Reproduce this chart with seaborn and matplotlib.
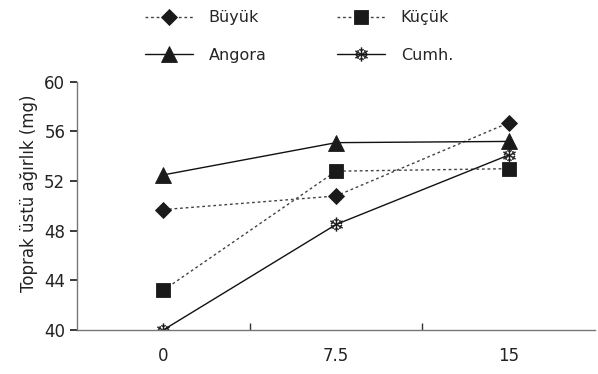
import numpy as np
import pandas as pd
import matplotlib
matplotlib.use("Agg")
import matplotlib.pyplot as plt
import seaborn as sns

# ── Data ──────────────────────────────────────────────────────────────────────
doses  = ["0", "7.5", "15"]
buyuk  = [49.7, 50.8, 56.7]
kucuk  = [43.2, 52.8, 53.0]
angora = [52.5, 55.1, 55.2]
cumh   = [40.0, 48.5, 54.1]

sns.set_theme(style="ticks")
plt.rcParams["font.family"] = ["DejaVu Sans"]

df = pd.DataFrame({
    "pos": list(range(len(doses))) * 4,
    "val": buyuk + kucuk + angora + cumh,
    "grp": ["Büyük"] * 3 + ["Küçük"] * 3 + ["Angora"] * 3 + ["Cumh."] * 3,
})

styles = {
    "Büyük":  dict(marker="D", ms=8, ls=(0, (2, 2)), color="#444444"),
    "Küçük":  dict(marker="s", ms=10, ls=(0, (2, 2)), color="#444444"),
    "Angora": dict(marker="^", ms=11, ls="-", color="#111111"),
    "Cumh.":  dict(marker="$❄$", ms=10, ls="-", color="#111111"),
}

fig = plt.figure(figsize=(5.98, 3.74), dpi=100)
ax = fig.add_axes([0.129, 0.118, 0.866, 0.663])

for name in ["Büyük", "Küçük", "Angora", "Cumh."]:
    st = styles[name]
    sub = df[df["grp"] == name]
    sns.lineplot(data=sub, x="pos", y="val", ax=ax, label=name,
                 color=st["color"], linestyle=st["ls"], linewidth=1.0,
                 marker=st["marker"], markersize=st["ms"],
                 markerfacecolor="#1a1a1a", markeredgecolor="#1a1a1a",
                 markeredgewidth=0.6 if name != "Cumh." else 0.2)

ax.set_xlim(-0.5, 2.5)
ax.set_ylim(40, 60)
ax.set_yticks([40, 44, 48, 52, 56, 60])
ax.set_xticks(range(len(doses)))
ax.set_xticklabels(doses)
ax.set_xticks([0.5, 1.5], minor=True)
ax.tick_params(axis="x", which="major", length=0, pad=12, labelsize=12, colors="#222222")
ax.tick_params(axis="x", which="minor", length=5, direction="in", color="#333333")
ax.tick_params(axis="y", length=5, direction="out", labelsize=12, colors="#222222")
ax.set_xlabel("")
ax.set_ylabel("Toprak üstü ağırlık (mg)", fontsize=12, color="#222222")
ax.yaxis.set_label_coords(-0.075, 0.55)
sns.despine(ax=ax)
for s in ["left", "bottom"]:
    ax.spines[s].set_color("#777777")
    ax.spines[s].set_linewidth(1.0)

if ax.legend_:
    ax.legend_.remove()
handles, labels = ax.get_legend_handles_labels()
order = [0, 2, 1, 3]  # row-wise: Büyük, Küçük / Angora, Cumh.
fig.legend([handles[i] for i in order], [labels[i] for i in order],
           ncol=2, loc="upper left", bbox_to_anchor=(0.218, 1.011),
           frameon=False, handlelength=3.0, fontsize=11.5, columnspacing=4.4,
           labelspacing=1.4, handletextpad=1.0)

fig.savefig("out.png", dpi=100)
